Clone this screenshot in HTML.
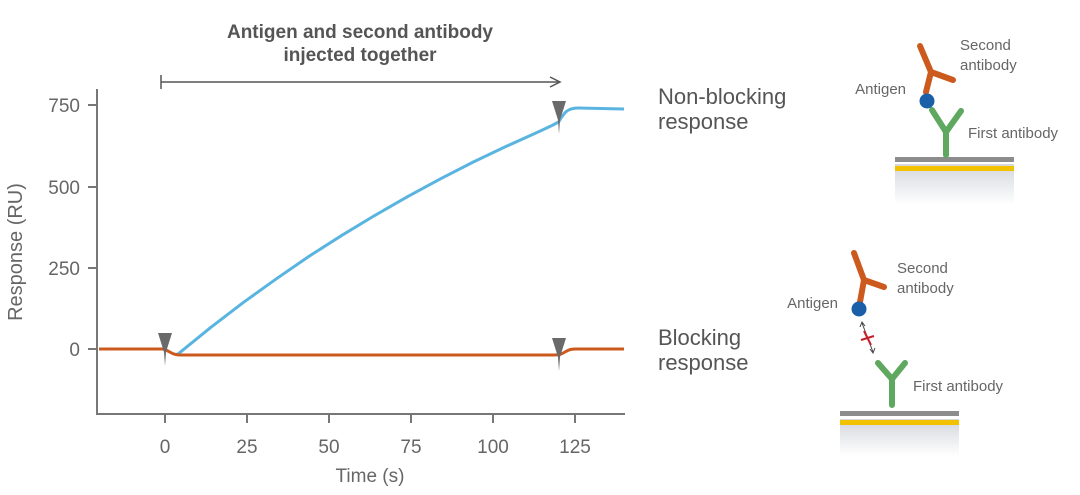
<!DOCTYPE html>
<html><head><meta charset="utf-8"><style>
html,body{margin:0;padding:0;background:#fff;}
svg{display:block;font-family:"Liberation Sans",sans-serif;}
</style></head><body>
<svg width="1080" height="495" viewBox="0 0 1080 495">
<defs>
<linearGradient id="g" x1="0" y1="0" x2="0" y2="1"><stop offset="0" stop-color="#d4d6dc"/><stop offset="1" stop-color="#fff"/></linearGradient>
</defs>
<text x="360" y="38" text-anchor="middle" font-size="19" font-weight="bold" fill="#555">Antigen and second antibody</text>
<text x="360" y="61" text-anchor="middle" font-size="19" font-weight="bold" fill="#555">injected together</text>
<line x1="161" y1="82" x2="558" y2="82" stroke="#555" stroke-width="1.5"/>
<line x1="161" y1="75" x2="161" y2="89" stroke="#555" stroke-width="1.5"/>
<path d="M550 77 L560 82 L550 87" fill="none" stroke="#555" stroke-width="1.5"/>
<path d="M97 89 V414 H625" fill="none" stroke="#777" stroke-width="2"/>
<g stroke="#777" stroke-width="2">
<line x1="88" y1="105" x2="97" y2="105"/><line x1="88" y1="187" x2="97" y2="187"/>
<line x1="88" y1="268" x2="97" y2="268"/><line x1="88" y1="349" x2="97" y2="349"/>
<line x1="165" y1="414" x2="165" y2="423"/><line x1="247" y1="414" x2="247" y2="423"/>
<line x1="329" y1="414" x2="329" y2="423"/><line x1="411" y1="414" x2="411" y2="423"/>
<line x1="493" y1="414" x2="493" y2="423"/><line x1="575" y1="414" x2="575" y2="423"/>
</g>
<g font-size="19" fill="#666" text-anchor="end">
<text x="80" y="112">750</text><text x="80" y="194">500</text>
<text x="80" y="275">250</text><text x="80" y="356">0</text>
</g>
<g font-size="19" fill="#666" text-anchor="middle">
<text x="165" y="453">0</text><text x="247" y="453">25</text><text x="329" y="453">50</text>
<text x="411" y="453">75</text><text x="493" y="453">100</text><text x="575" y="453">125</text>
<text x="370" y="482">Time (s)</text>
</g>
<text transform="translate(22 252) rotate(-90)" font-size="20" fill="#666" text-anchor="middle">Response (RU)</text>
<polyline points="176,354.5 178.1,353.9 210.9,327.3 243.7,302.2 276.5,278.7 309.3,256.1 342.1,235.2 374.9,215.4 407.7,196.6 440.5,178.8 473.3,162 506.1,146.4 538.9,131.6 552,125.5 558.6,122" fill="none" stroke="#5ab4e0" stroke-width="3" stroke-linejoin="round"/>
<path d="M558.6 122 C564 113 567 108 578 108 L624 109" fill="none" stroke="#5ab4e0" stroke-width="3"/>
<path d="M99 349 L163 349 C170 351 172 355 180 355 L555 355 C565 355 565 349 575 349 L624 349" fill="none" stroke="#cc5a1e" stroke-width="3"/>
<g fill="#6a6a6a">
<path d="M158 333 L172 333 L166 352 L165 366 L164 352 Z"/>
<path d="M552 338 L566 338 L560 357 L559 371 L558 357 Z"/>
<path d="M552 101 L566 101 L560 120 L559 134 L558 120 Z"/>
</g>
<g font-size="22" fill="#555">
<text x="658" y="104">Non-blocking</text><text x="658" y="129">response</text>
<text x="658" y="345">Blocking</text><text x="658" y="370">response</text>
</g>
<rect x="895" y="164" width="119" height="41" fill="url(#g)"/>
<rect x="895" y="157" width="119" height="5" fill="#8c8c8c"/>
<rect x="895" y="166" width="119" height="5" fill="#f2c200"/>
<g stroke="#5ea860" stroke-width="6" stroke-linecap="round" fill="none">
<path d="M946 155 L946 132 L932 110 M946 132 L961 111"/></g>
<g stroke="#cc5a1e" stroke-width="6" stroke-linecap="round" fill="none">
<path d="M926 92 L931 72 L920 46 M931 72 L953 80"/></g>
<circle cx="927" cy="101" r="7.5" fill="#1a5fa8"/>
<g font-size="15" fill="#666">
<text x="960" y="50">Second</text><text x="960" y="70">antibody</text>
<text x="906" y="94" text-anchor="end">Antigen</text>
<text x="968" y="138">First antibody</text>
</g>
<rect x="840" y="419" width="119" height="37" fill="url(#g)"/>
<rect x="840" y="411" width="119" height="5" fill="#8c8c8c"/>
<rect x="840" y="420" width="119" height="5" fill="#f2c200"/>
<g stroke="#5ea860" stroke-width="6" stroke-linecap="round" fill="none">
<path d="M892 405 L892 379 L878 363 M892 379 L905 363"/></g>
<g stroke="#cc5a1e" stroke-width="6" stroke-linecap="round" fill="none">
<path d="M860 302 L864 280 L854 253 M864 280 L884 287"/></g>
<circle cx="859" cy="309" r="7.5" fill="#1a5fa8"/>
<line x1="862" y1="323" x2="873" y2="352" stroke="#444" stroke-width="1"/>
<path d="M860 327 L862 322 L865 326 M870 349 L873 353 L875 348" fill="none" stroke="#444" stroke-width="1"/>
<path d="M861 340 L874 336 M864 331 L871 345" stroke="#c4202a" stroke-width="2"/>
<g font-size="15" fill="#666">
<text x="897" y="273">Second</text><text x="897" y="293">antibody</text>
<text x="838" y="308" text-anchor="end">Antigen</text>
<text x="913" y="391">First antibody</text>
</g>
</svg>
</body></html>
